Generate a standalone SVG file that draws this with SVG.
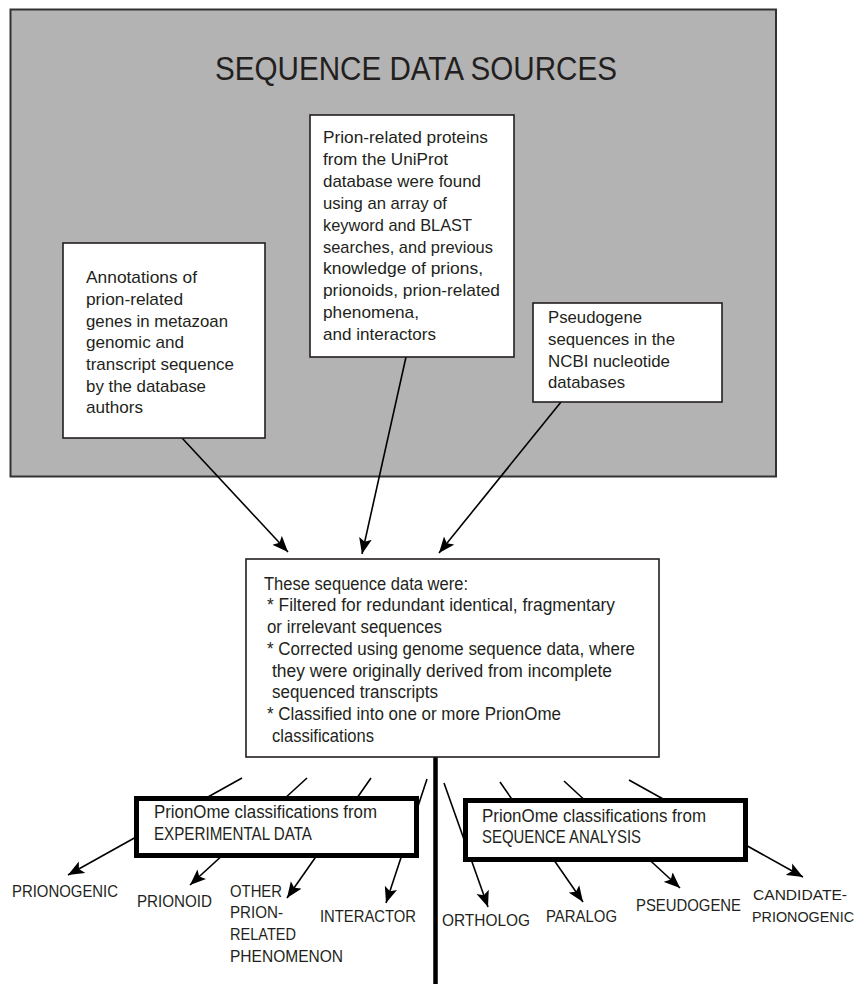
<svg xmlns="http://www.w3.org/2000/svg" width="863" height="984" viewBox="0 0 863 984">
<style>
text{font-family:"Liberation Sans",Arial,sans-serif;fill:#231f20;}
.src{font-size:17px;}
.mid{font-size:17.5px;}
.lab{font-size:17px;}
.box{fill:#fff;stroke:#231f20;stroke-width:1.6;}
.cls{fill:#fff;stroke:#000;stroke-width:5;}
.con{stroke:#000;stroke-width:1.6;fill:none;}
.arr{marker-end:url(#ah);}
</style>
<defs>
<marker id="ah" markerUnits="userSpaceOnUse" markerWidth="18" markerHeight="14" refX="16" refY="6.5" orient="auto" viewBox="0 0 18 13">
<path d="M0,0 L16,6.5 L0,13 L3.5,6.5 z" fill="#000"/>
</marker>
</defs>
<rect width="863" height="984" fill="#fff"/>
<g id="sources-container">
<rect x="10.5" y="9.5" width="765.5" height="467" fill="#b3b3b3" stroke="#333" stroke-width="2"/>
<text x="215" y="80" font-size="33" textLength="402" lengthAdjust="spacingAndGlyphs">SEQUENCE DATA SOURCES</text>
</g>
<g id="connectors">
<line class="con arr" x1="182" y1="438" x2="288" y2="552"/>
<line class="con arr" x1="406" y1="357" x2="362" y2="554"/>
<line class="con arr" x1="561" y1="402" x2="439" y2="553"/>
<line x1="435.5" y1="757" x2="435.5" y2="984" stroke="#000" stroke-width="4.5"/>
<line class="con arr" x1="242" y1="778" x2="68" y2="875"/>
<line class="con arr" x1="307" y1="778" x2="190" y2="885"/>
<line class="con arr" x1="371" y1="778" x2="287" y2="898"/>
<line class="con arr" x1="427" y1="779" x2="386" y2="903"/>
<line class="con arr" x1="444" y1="783" x2="488" y2="907"/>
<line class="con arr" x1="500" y1="782" x2="583" y2="902"/>
<line class="con arr" x1="564" y1="781" x2="680" y2="888"/>
<line class="con arr" x1="629" y1="780" x2="803" y2="877"/>
</g>
<g id="annotations-box">
<rect class="box" x="63" y="243" width="202" height="195"/>
<text class="src" x="86" y="283" textLength="111" lengthAdjust="spacingAndGlyphs">Annotations of</text>
<text class="src" x="86" y="305" textLength="97" lengthAdjust="spacingAndGlyphs">prion-related</text>
<text class="src" x="86" y="327" textLength="142" lengthAdjust="spacingAndGlyphs">genes in metazoan</text>
<text class="src" x="86" y="348" textLength="98" lengthAdjust="spacingAndGlyphs">genomic and</text>
<text class="src" x="86" y="370" textLength="148" lengthAdjust="spacingAndGlyphs">transcript sequence</text>
<text class="src" x="86" y="392" textLength="120" lengthAdjust="spacingAndGlyphs">by the database</text>
<text class="src" x="86" y="413" textLength="57" lengthAdjust="spacingAndGlyphs">authors</text>
</g>
<g id="uniprot-box">
<rect class="box" x="310" y="115" width="204" height="242"/>
<text class="src" x="323" y="143" textLength="165" lengthAdjust="spacingAndGlyphs">Prion-related proteins</text>
<text class="src" x="323" y="165" textLength="125" lengthAdjust="spacingAndGlyphs">from the UniProt</text>
<text class="src" x="323" y="187" textLength="158" lengthAdjust="spacingAndGlyphs">database were found</text>
<text class="src" x="323" y="209" textLength="124" lengthAdjust="spacingAndGlyphs">using an array of</text>
<text class="src" x="323" y="231" textLength="149" lengthAdjust="spacingAndGlyphs">keyword and BLAST</text>
<text class="src" x="323" y="253" textLength="170" lengthAdjust="spacingAndGlyphs">searches, and previous</text>
<text class="src" x="323" y="274" textLength="160" lengthAdjust="spacingAndGlyphs">knowledge of prions,</text>
<text class="src" x="323" y="296" textLength="177" lengthAdjust="spacingAndGlyphs">prionoids, prion-related</text>
<text class="src" x="323" y="318" textLength="96" lengthAdjust="spacingAndGlyphs">phenomena,</text>
<text class="src" x="323" y="340" textLength="113" lengthAdjust="spacingAndGlyphs">and interactors</text>
</g>
<g id="pseudogene-box">
<rect class="box" x="533" y="303" width="189" height="99"/>
<text class="src" x="548" y="323" textLength="94" lengthAdjust="spacingAndGlyphs">Pseudogene</text>
<text class="src" x="548" y="345" textLength="127" lengthAdjust="spacingAndGlyphs">sequences in the</text>
<text class="src" x="548" y="367" textLength="122" lengthAdjust="spacingAndGlyphs">NCBI nucleotide</text>
<text class="src" x="548" y="388" textLength="77" lengthAdjust="spacingAndGlyphs">databases</text>
</g>
<g id="processing-box">
<rect class="box" x="246" y="559" width="413" height="198"/>
<text class="mid" x="264" y="590" textLength="204" lengthAdjust="spacingAndGlyphs">These sequence data were:</text>
<text class="mid" x="267" y="611" textLength="348" lengthAdjust="spacingAndGlyphs">* Filtered for redundant identical, fragmentary</text>
<text class="mid" x="267" y="633" textLength="175" lengthAdjust="spacingAndGlyphs">or irrelevant sequences</text>
<text class="mid" x="267" y="655" textLength="368" lengthAdjust="spacingAndGlyphs">* Corrected using genome sequence data, where</text>
<text class="mid" x="272" y="677" textLength="340" lengthAdjust="spacingAndGlyphs">they were originally derived from incomplete</text>
<text class="mid" x="272" y="698" textLength="166" lengthAdjust="spacingAndGlyphs">sequenced transcripts</text>
<text class="mid" x="267" y="720" textLength="294" lengthAdjust="spacingAndGlyphs">* Classified into one or more PrionOme</text>
<text class="mid" x="272" y="742" textLength="102" lengthAdjust="spacingAndGlyphs">classifications</text>
</g>
<g id="experimental-box">
<rect class="cls" x="136.5" y="798.5" width="280" height="57"/>
<text class="mid" x="154" y="818" textLength="223" lengthAdjust="spacingAndGlyphs">PrionOme classifications from</text>
<text class="mid" x="154" y="840" textLength="158" lengthAdjust="spacingAndGlyphs">EXPERIMENTAL DATA</text>
</g>
<g id="sequence-analysis-box">
<rect class="cls" x="465.5" y="800.5" width="280" height="59"/>
<text class="mid" x="482" y="822" textLength="224" lengthAdjust="spacingAndGlyphs">PrionOme classifications from</text>
<text class="mid" x="482" y="843" textLength="159" lengthAdjust="spacingAndGlyphs">SEQUENCE ANALYSIS</text>
</g>
<g id="prionogenic"><text class="lab" x="12" y="897" textLength="106" lengthAdjust="spacingAndGlyphs">PRIONOGENIC</text></g>
<g id="prionoid"><text class="lab" x="137" y="907" textLength="75" lengthAdjust="spacingAndGlyphs">PRIONOID</text></g>
<g id="other-phenomenon">
<text class="lab" x="230" y="897" textLength="52" lengthAdjust="spacingAndGlyphs">OTHER</text>
<text class="lab" x="230" y="918" textLength="53" lengthAdjust="spacingAndGlyphs">PRION-</text>
<text class="lab" x="230" y="940" textLength="66" lengthAdjust="spacingAndGlyphs">RELATED</text>
<text class="lab" x="230" y="962" textLength="113" lengthAdjust="spacingAndGlyphs">PHENOMENON</text>
</g>
<g id="interactor"><text class="lab" x="320" y="922" textLength="96" lengthAdjust="spacingAndGlyphs">INTERACTOR</text></g>
<g id="ortholog"><text class="lab" x="442" y="926" textLength="88" lengthAdjust="spacingAndGlyphs">ORTHOLOG</text></g>
<g id="paralog"><text class="lab" x="546" y="922" textLength="71" lengthAdjust="spacingAndGlyphs">PARALOG</text></g>
<g id="pseudogene"><text class="lab" x="636" y="911" textLength="105" lengthAdjust="spacingAndGlyphs">PSEUDOGENE</text></g>
<g id="candidate-prionogenic">
<text x="753" y="900" font-size="15" textLength="94" lengthAdjust="spacingAndGlyphs">CANDIDATE-</text>
<text x="752" y="922" font-size="15" textLength="102" lengthAdjust="spacingAndGlyphs">PRIONOGENIC</text>
</g>
</svg>
